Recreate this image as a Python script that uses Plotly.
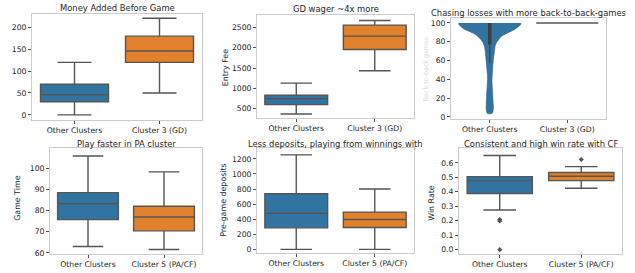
import plotly.graph_objects as go

W, H = 635, 273
BLUE = "#3274a1"
ORANGE = "#e1812c"
LINE = "#555555"
SPINE = "#cccccc"
TXT = "#262626"
FONT = "DejaVu Sans"
FS_TICK = 7.7
FS_TITLE = 8.4
FS_LABEL = 7.9

# ---------------- data ----------------
cats_gd = ["Other Clusters", "Cluster 3 (GD)"]
cats_pa = ["Other Clusters", "Cluster 5 (PA/CF)"]

# box stats: [lowerfence, q1, median, q3, upperfence]
money_other = [0, 30, 46, 70, 120]
money_gd = [50, 120, 146, 180, 221]

fee_other = [370, 598, 745, 830, 1129]
fee_gd = [1433, 1955, 2287, 2557, 2671]

gametime_other = [63, 75.7, 83.2, 88.4, 105.7]
gametime_pa = [61.6, 70.4, 76.9, 82.0, 98.2]

deposits_other = [0, 286, 480, 738, 1253]
deposits_pa = [0, 291, 397, 495, 802]

winrate_other = [0.274, 0.388, 0.475, 0.505, 0.651]
winrate_pa = [0.424, 0.477, 0.507, 0.533, 0.574]
winrate_other_outliers = [0.208, 0.198, 0.0]
winrate_pa_outliers = [0.623]

# violin profile for back-to-back games (Other Clusters): value, half-width
violin_y = [100, 98.5, 97, 95, 93, 91, 89, 87, 85, 82, 79, 75, 70, 65, 60, 55,
            50, 45, 40, 35, 30, 25, 20, 15, 10, 6, 4, 3.2, 2.8]
violin_hw = [0.40, 0.40, 0.385, 0.355, 0.32, 0.27, 0.21, 0.17, 0.14, 0.11, 0.085,
             0.068, 0.058, 0.05, 0.045, 0.04, 0.034, 0.03, 0.028, 0.03, 0.035,
             0.04, 0.045, 0.047, 0.047, 0.043, 0.035, 0.02, 0.0]
violin_inner_box = [77, 100]      # q1, q3 (thick)
violin_inner_whisk = [57, 100]    # whisker span (thin)
gd_b2b_value = 100                # all GD values

# ---------------- layout geometry (pixels) ----------------
axes_px = {
    1: (32, 202, 14, 121),
    2: (257, 414, 15, 119.5),
    3: (451, 606, 18.5, 120),
    4: (50, 202, 150, 257),
    5: (257, 414, 150, 256),
    6: (459, 622, 150, 257),
}
title_gap = {1: 5.5, 2: 5.5, 3: 5.5, 4: 4.5, 5: 4.5, 6: 4.5}
yranges = {1: [-11, 231], 2: [265, 2810], 3: [-2, 105], 4: [59.4, 109.3],
           5: [-50, 1340], 6: [-0.031, 0.70]}
yticks = {1: [0, 50, 100, 150, 200], 2: [500, 1000, 1500, 2000, 2500],
          3: [0, 20, 40, 60, 80, 100], 4: [60, 70, 80, 90, 100],
          5: [0, 200, 400, 600, 800, 1000, 1200],
          6: [0, 0.1, 0.2, 0.3, 0.4, 0.5, 0.6]}
xlabels = {1: cats_gd, 2: cats_gd, 3: cats_gd, 4: cats_pa, 5: cats_pa, 6: cats_pa}
titles = {1: "Money Added Before Game", 2: "GD wager ~4x more",
          3: "Chasing losses with more back-to-back-games",
          4: "Play faster in PA cluster",
          5: "Less deposits, playing from winnings with",
          6: "Consistent and high win rate with CF"}

fig = go.Figure()


def ax(i):
    return ("x" if i == 1 else f"x{i}"), ("y" if i == 1 else f"y{i}")


def add_box(i, xpos, stats, color):
    xa, ya = ax(i)
    fig.add_trace(go.Box(
        x=[xpos], lowerfence=[stats[0]], q1=[stats[1]], median=[stats[2]],
        q3=[stats[3]], upperfence=[stats[4]], width=0.8, whiskerwidth=0.5,
        fillcolor=color, line=dict(color=LINE, width=1.4), boxpoints=False,
        xaxis=xa, yaxis=ya, showlegend=False, hoverinfo="skip"))


add_box(1, 0, money_other, BLUE)
add_box(1, 1, money_gd, ORANGE)
add_box(2, 0, fee_other, BLUE)
add_box(2, 1, fee_gd, ORANGE)
add_box(4, 0, gametime_other, BLUE)
add_box(4, 1, gametime_pa, ORANGE)
add_box(5, 0, deposits_other, BLUE)
add_box(5, 1, deposits_pa, ORANGE)
add_box(6, 0, winrate_other, BLUE)
add_box(6, 1, winrate_pa, ORANGE)

xa6, ya6 = ax(6)
fig.add_trace(go.Scatter(x=[0] * len(winrate_other_outliers), y=winrate_other_outliers,
                         mode="markers", marker=dict(symbol="diamond", size=4, color=LINE),
                         xaxis=xa6, yaxis=ya6, showlegend=False, hoverinfo="skip"))
fig.add_trace(go.Scatter(x=[1] * len(winrate_pa_outliers), y=winrate_pa_outliers,
                         mode="markers", marker=dict(symbol="diamond", size=4, color=LINE),
                         xaxis=xa6, yaxis=ya6, showlegend=False, hoverinfo="skip"))

# violin (subplot 3)
xa3, ya3 = ax(3)
vx = [0 + h for h in violin_hw] + [0 - h for h in reversed(violin_hw)]
vy = list(violin_y) + list(reversed(violin_y))
fig.add_trace(go.Scatter(x=vx, y=vy, mode="lines", fill="toself", fillcolor=BLUE,
                         line=dict(color="#2f5f85", width=0.6),
                         xaxis=xa3, yaxis=ya3, showlegend=False, hoverinfo="skip"))
fig.add_trace(go.Scatter(x=[0, 0], y=violin_inner_whisk, mode="lines",
                         line=dict(color="#3f3f3f", width=1.2),
                         xaxis=xa3, yaxis=ya3, showlegend=False, hoverinfo="skip"))
fig.add_trace(go.Scatter(x=[0, 0], y=violin_inner_box, mode="lines",
                         line=dict(color="#3f3f3f", width=3.5),
                         xaxis=xa3, yaxis=ya3, showlegend=False, hoverinfo="skip"))
fig.add_trace(go.Scatter(x=[0.6, 1.4], y=[gd_b2b_value, gd_b2b_value], mode="lines",
                         line=dict(color="#555555", width=1.3),
                         xaxis=xa3, yaxis=ya3, showlegend=False, hoverinfo="skip"))

layout = dict(
    width=W, height=H, margin=dict(l=0, r=0, t=0, b=0),
    paper_bgcolor="white", plot_bgcolor="white",
    font=dict(family=FONT, size=FS_TICK, color=TXT),
)
annotations = []
for i, (l, r, t, b) in axes_px.items():
    xk = "xaxis" if i == 1 else f"xaxis{i}"
    yk = "yaxis" if i == 1 else f"yaxis{i}"
    xa, ya = ax(i)
    layout[xk] = dict(
        domain=[l / W, r / W], anchor=ya, range=[-0.5, 1.5],
        tickvals=[0, 1], ticktext=xlabels[i], showgrid=False, zeroline=False,
        showline=True, linecolor=SPINE, linewidth=1, mirror=True,
        ticks="outside", ticklen=3, tickcolor="#555555", tickwidth=0.8,
        tickfont=dict(family=FONT, size=FS_TICK, color=TXT), fixedrange=True)
    layout[yk] = dict(
        domain=[1 - b / H, 1 - t / H], anchor=xa, range=yranges[i],
        tickvals=yticks[i], showgrid=False, zeroline=False,
        showline=True, linecolor=SPINE, linewidth=1, mirror=True,
        ticks="outside", ticklen=3, tickcolor="#555555", tickwidth=0.8,
        tickfont=dict(family=FONT, size=FS_TICK, color=TXT), fixedrange=True)
    if i == 6:
        layout[yk]["tickformat"] = ".1f"
    annotations.append(dict(
        text=titles[i], x=(l + r) / 2 / W, y=1 - (t - title_gap[i]) / H,
        xref="paper", yref="paper",
        xanchor="center", yanchor="middle", showarrow=False,
        font=dict(family=FONT, size=FS_TITLE, color=TXT)))

ylabels = [("Entry Fee", 225, 69, TXT), ("Back-to-back games", 426, 70, "#dadada"),
           ("Game Time", 18, 201, TXT), ("Pre-game deposits", 224, 202, TXT),
           ("Win Rate", 432, 205, TXT)]
for txt, px, py, col in ylabels:
    annotations.append(dict(
        text=txt, x=px / W, y=1 - py / H, xref="paper", yref="paper",
        xanchor="center", yanchor="middle", textangle=-90, showarrow=False,
        font=dict(family=FONT, size=FS_LABEL if col == TXT else 6.3, color=col)))

layout["annotations"] = annotations
fig.update_layout(**layout)
fig.write_html("out.html", config={"displayModeBar": False},
               post_script="document.body.style.margin='0';")
